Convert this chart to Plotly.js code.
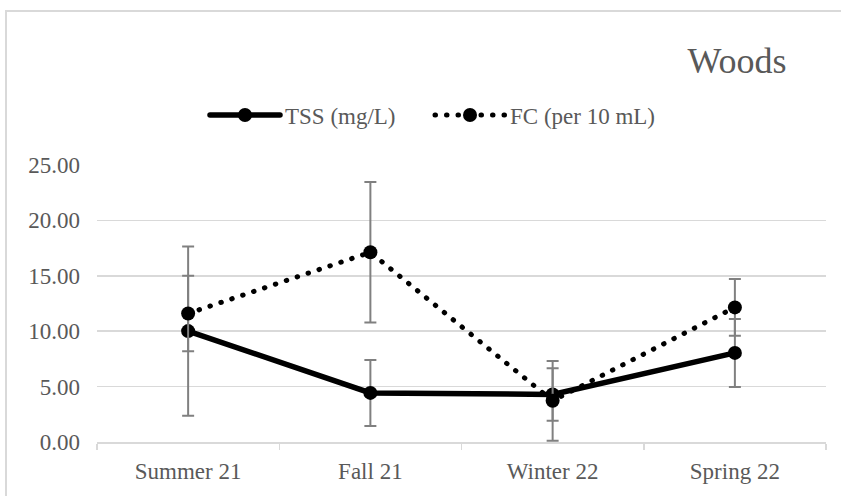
<!DOCTYPE html>
<html>
<head>
<meta charset="utf-8">
<script src="https://cdn.plot.ly/plotly-3.0.1.min.js"></script>
<style>
  html, body { margin: 0; padding: 0; background: #ffffff; }
  #chart { width: 841px; height: 496px; }
  .scatterlayer .js-line, .legend .js-line { stroke-linecap: round; }
</style>
</head>
<body>
<div id="chart"></div>
<script>
const categories = ["Summer 21", "Fall 21", "Winter 22", "Spring 22"];
const tssValues = [10.01, 4.43, 4.29, 8.04];
const tssErrors = [7.63, 2.98, 2.37, 3.07];
const fcValues = [11.6, 17.12, 3.72, 12.15];
const fcErrors = [3.4, 6.34, 3.6, 2.57];
const yTickVals = [0, 5, 10, 15, 20, 25];
const chartTitle = "Woods";
const seriesNames = ["TSS (mg/L)", "FC (per 10 mL)"];

const textColor = "#595959";
const gridColor = "#d9d9d9";
const errColor = "#808080";
const fontFamily = "Liberation Serif";

const traces = [
  {
    x: categories, y: tssValues, name: seriesNames[0], type: "scatter", mode: "lines+markers",
    line: { color: "#000000", width: 5.5 },
    marker: { color: "#000000", size: 14 },
    error_y: { type: "data", array: tssErrors, visible: true, color: errColor, thickness: 2, width: 6 }
  },
  {
    x: categories, y: fcValues, name: seriesNames[1], type: "scatter", mode: "lines+markers",
    line: { color: "#000000", width: 5, dash: "0.5px,11px" },
    marker: { color: "#000000", size: 14 },
    error_y: { type: "data", array: fcErrors, visible: true, color: errColor, thickness: 2, width: 6 }
  }
];

const L = 97, R = 826, T = 165, B = 442, W = 841, H = 496;
const pw = R - L, ph = B - T;
const px = v => (v - L) / pw;
const py = v => (B - v) / ph;

const layout = {
  width: W, height: H,
  margin: { l: L, r: W - R, t: T, b: H - B, pad: 0 },
  paper_bgcolor: "#ffffff", plot_bgcolor: "#ffffff",
  font: { family: fontFamily, color: textColor, size: 23 },
  title: {
    text: chartTitle, font: { family: fontFamily, size: 36, color: textColor },
    x: 737 / W, xref: "container", xanchor: "center",
    y: 1 - 60 / H, yref: "container", yanchor: "middle"
  },
  showlegend: true,
  legend: {
    orientation: "h", x: px(430), xanchor: "center", y: py(115), yanchor: "middle",
    font: { family: fontFamily, size: 23, color: textColor },
    itemwidth: 70, entrywidth: 140, bgcolor: "rgba(0,0,0,0)", traceorder: "normal"
  },
  xaxis: {
    type: "category", range: [-0.5, 3.5], tickson: "boundaries", ticks: "outside", ticklen: 6, tickwidth: 1.5,
    tickcolor: gridColor, showline: true, linecolor: gridColor, linewidth: 1.5,
    showgrid: false, zeroline: false, ticklabelstandoff: 8,
    tickfont: { family: fontFamily, size: 23, color: textColor }, fixedrange: true
  },
  yaxis: {
    range: [0, 25], tickvals: yTickVals, tickformat: ".2f", showgrid: true,
    gridcolor: gridColor, gridwidth: 1.5, zeroline: false, showline: false, ticks: "",
    ticklabelstandoff: 16,
    tickfont: { family: fontFamily, size: 23, color: textColor }, fixedrange: true
  },
  shapes: [
    { type: "line", xref: "paper", yref: "paper", x0: px(6), x1: px(6), y0: py(10), y1: py(500),
      line: { color: gridColor, width: 2 } },
    { type: "line", xref: "paper", yref: "paper", x0: px(5), x1: px(845), y0: py(11), y1: py(11),
      line: { color: gridColor, width: 2 } }
  ]
};

Plotly.newPlot("chart", traces, layout, { staticPlot: true, displayModeBar: false });
</script>
</body>
</html>
